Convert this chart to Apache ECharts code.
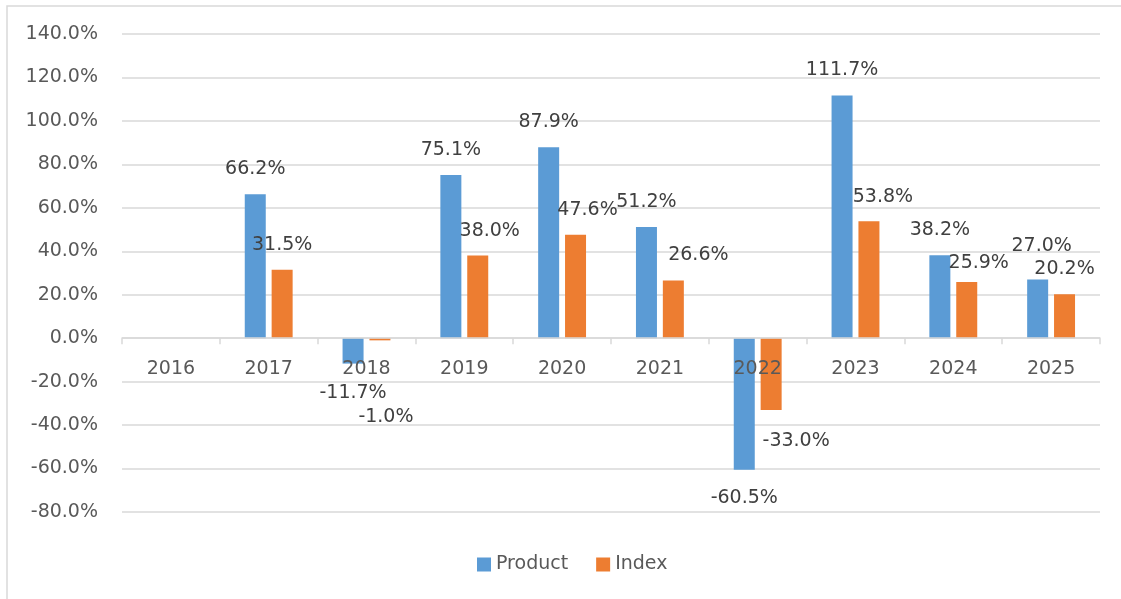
<!DOCTYPE html>
<html>
<head>
<meta charset="utf-8">
<script src="https://cdn.jsdelivr.net/npm/echarts@6/dist/echarts.min.js"></script>
<style>
  html, body { margin: 0; padding: 0; background: #fff; }
  #main { width: 1121px; height: 599px; }
</style>
</head>
<body>
<div id="main"></div>
<script>
// 数据
const years = ['2016', '2017', '2018', '2019', '2020', '2021', '2022', '2023', '2024', '2025'];
const productValues = [null, 66.2, -11.7, 75.1, 87.9, 51.2, -60.5, 111.7, 38.2, 27.0];
const indexValues = [null, 31.5, -1.0, 38.0, 47.6, 26.6, -33.0, 53.8, 25.9, 20.2];

// 标签微调（Excel 里手动挪过的标签）
const productNudge = { 2: [0, 4], 6: [0, 3], 9: [4, -8] };
const indexNudge = { 2: [6, 52], 3: [12, 0], 4: [12, 0], 5: [25, 0], 6: [25, 6], 7: [14, 1], 8: [12, 6] };

const FONT = 'DejaVu Sans';

function buildData(values, nudge) {
  return values.map((v, i) => {
    if (v === null) return '-';
    return {
      value: v,
      label: {
        position: v < 0 ? 'bottom' : 'top',
        offset: nudge[i] || [0, 0]
      }
    };
  });
}

const chart = echarts.init(document.getElementById('main'), null, { renderer: 'canvas' });

const labelStyle = {
  show: true,
  distance: 15,
  color: '#404040',
  fontFamily: FONT,
  fontSize: 19,
  lineHeight: 20,
  formatter: p => p.value.toFixed(1) + '%'
};

const option = {
  animation: false,
  backgroundColor: '#fff',
  // 外框（只露出上边和左边）
  graphic: [{
    type: 'rect',
    shape: { x: 7, y: 6, width: 1300, height: 800 },
    style: { fill: 'none', stroke: '#d9d9d9', lineWidth: 1.5 },
    silent: true
  }],
  grid: { left: 122, right: 21, top: 34, bottom: 87 },
  legend: {
    left: 472,
    top: 550,
    itemWidth: 14,
    itemHeight: 14,
    itemGap: 28,
    icon: 'rect',
    textStyle: { color: '#595959', fontFamily: FONT, fontSize: 19 },
    data: ['Product', 'Index']
  },
  xAxis: {
    type: 'category',
    z: 3,
    data: years,
    axisLine: { onZero: true, lineStyle: { color: '#d9d9d9', width: 1.5 } },
    axisTick: { show: true, length: 6, lineStyle: { color: '#d9d9d9', width: 1.5 } },
    // 标签放在 0 线下方
    axisLabel: { color: '#595959', fontFamily: FONT, fontSize: 19, margin: -152 }
  },
  yAxis: {
    type: 'value',
    min: -80,
    max: 140,
    interval: 20,
    axisLine: { show: false },
    axisTick: { show: false },
    axisLabel: {
      color: '#595959',
      fontFamily: FONT,
      fontSize: 19,
      margin: 24,
      formatter: v => v.toFixed(1) + '%'
    },
    splitLine: { lineStyle: { color: '#d9d9d9', width: 1.5 } }
  },
  series: [
    {
      name: 'Product',
      type: 'bar',
      barWidth: 21,
      barGap: '28%',
      itemStyle: { color: '#5B9BD5' },
      label: labelStyle,
      data: buildData(productValues, productNudge)
    },
    {
      name: 'Index',
      type: 'bar',
      barWidth: 21,
      barGap: '28%',
      itemStyle: { color: '#ED7D31' },
      label: labelStyle,
      data: buildData(indexValues, indexNudge)
    }
  ]
};

chart.setOption(option);
</script>
</body>
</html>
